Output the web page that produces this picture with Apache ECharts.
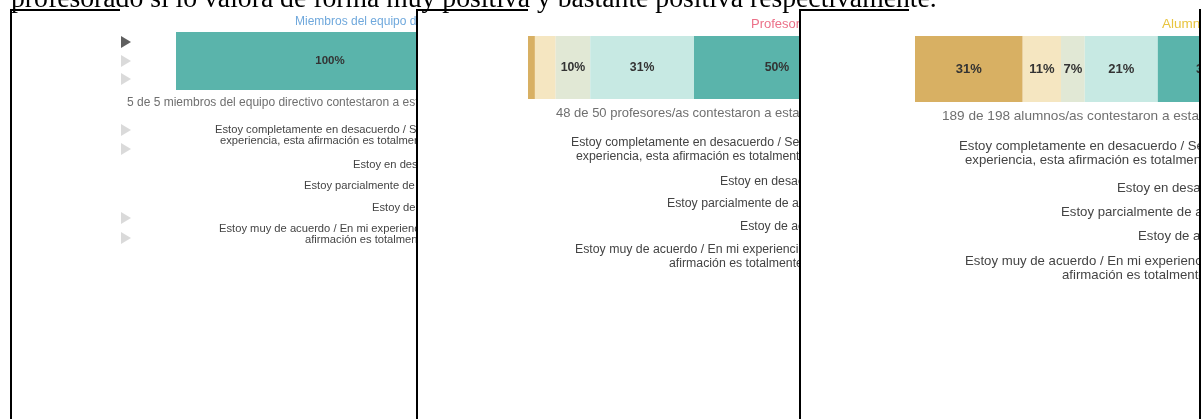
<!DOCTYPE html>
<html>
<head>
<meta charset="utf-8">
<script src="https://cdn.jsdelivr.net/npm/echarts@6/dist/echarts.min.js"></script>
<style>
    body { margin: 0; width: 1202px; height: 419px; overflow: hidden; position: relative; background: #fff; }
    .frase { position: absolute; left: 11px; top: -16px; font: 27.7px/28px "Liberation Serif", serif; color: #000; white-space: nowrap; z-index: 10; }
    .panel { position: absolute; top: 9px; height: 420px; overflow: hidden; background: #fff; border-left: 2px solid #000; }
    .panel .chart { position: absolute; left: 0; top: 0; width: 620px; height: 420px; }
    .borde { position: absolute; top: 9px; height: 2px; background: #000; z-index: 11; }
</style>
</head>
<body>
<div class="frase">profesorado sí lo valora de forma muy positiva y bastante positiva respectivamente.</div>
<div class="panel" style="left:10px;width:405px;z-index:1"><div class="chart" id="p1"></div></div>
<div class="panel" style="left:416px;width:382px;z-index:2"><div class="chart" id="p2"></div></div>
<div class="panel" style="left:799px;width:398px;z-index:3;border-right:2px solid #000"><div class="chart" id="p3"></div></div>
<div class="borde" style="left:10px;width:110px"></div>
<div class="borde" style="left:416px;width:112px"></div>
<div class="borde" style="left:799px;width:110px"></div>
<script>
    // niveles de respuesta (orden de la barra)
    var niveles = [
        'Estoy completamente en desacuerdo / Según mi experiencia, esta afirmación es totalmente falsa',
        'Estoy en desacuerdo',
        'Estoy parcialmente de acuerdo',
        'Estoy de acuerdo',
        'Estoy muy de acuerdo / En mi experiencia, esta afirmación es totalmente cierta'
    ]
    // como sale partida la leyenda
    var nivelesLineas = [
        ['Estoy completamente en desacuerdo / Según mi', 'experiencia, esta afirmación es totalmente falsa'],
        ['Estoy en desacuerdo'],
        ['Estoy parcialmente de acuerdo'],
        ['Estoy de acuerdo'],
        ['Estoy muy de acuerdo / En mi experiencia, esta', 'afirmación es totalmente cierta']
    ]
    var colores = ['#d8b063', '#f5e6c1', '#e1e8d5', '#c7e9e3', '#5ab4ab']

    var grupos = ['Miembros del equipo directivo', 'Profesorado', 'Alumnado']
    // numero de respuestas por nivel
    var equipoDirectivo = [0, 0, 0, 0, 5]
    var profesorado = [1, 3, 5, 15, 24]
    var alumnado = [59, 21, 13, 40, 56]
    var contestaron = [
        '5 de 5 miembros del equipo directivo contestaron a esta pregunta',
        '48 de 50 profesores/as contestaron a esta pregunta',
        '189 de 198 alumnos/as contestaron a esta pregunta'
    ]

    // posiciones de cada captura (cada una tiene su escala)
    var paneles = [
        {
            id: 'p1', valores: equipoDirectivo, colorTitulo: '#6fa8dc',
            grid: {left: 164, top: 23, width: 308, height: 58},
            fTitulo: 12, fResp: 12, fLey: 11.2, fBarra: 11.5,
            titulo: [283, 13], resp: [115, 94],
            leyenda: [[203, 121], [208, 132], [341, 156], [292, 177], [360, 199], [207, 220], [293, 231]],
            flechas: [[33, true], [52], [70], [121], [140], [209], [229]]
        },
        {
            id: 'p2', valores: profesorado, colorTitulo: '#ec7189',
            grid: {left: 110, top: 27, width: 332, height: 63},
            fTitulo: 13, fResp: 13, fLey: 12.3, fBarra: 12.3,
            titulo: [333, 15], resp: [138, 104],
            leyenda: [[153, 134], [158, 148], [302, 173], [249, 195], [322, 218], [157, 241], [251, 255]],
            flechas: []
        },
        {
            id: 'p3', valores: alumnado, colorTitulo: '#e8c43e',
            grid: {left: 114, top: 27, width: 345, height: 66},
            fTitulo: 13.5, fResp: 13.6, fLey: 13.2, fBarra: 13,
            titulo: [361, 15], resp: [141, 107],
            leyenda: [[158, 137], [164, 151], [316, 179], [260, 203], [337, 227], [164, 252], [261, 266]],
            flechas: []
        }
    ]

    paneles.forEach(function (p, k) {
        var myChart = echarts.init(document.getElementById(p.id))
        var total = p.valores.reduce(function (a, b) { return a + b }, 0)

        var series = niveles.map(function (nombre, i) {
            return {
                name: nombre,
                type: 'bar',
                stack: 'total',
                barWidth: '100%',
                itemStyle: {color: colores[i]},
                label: {
                    show: true,
                    position: 'inside',
                    color: '#333',
                    fontWeight: 'bold',
                    fontSize: p.fBarra,
                    fontFamily: 'Liberation Sans, Arial',
                    formatter: function (params) {
                        var pct = Math.round(params.value / total * 100)
                        return pct >= 7 ? pct + '%' : ''
                    }
                },
                data: [p.valores[i]]
            }
        })

        var graficos = []
        graficos.push({
            type: 'text', x: p.titulo[0], y: p.titulo[1],
            style: {text: grupos[k], fill: p.colorTitulo, fontSize: p.fTitulo, fontFamily: 'Liberation Sans', verticalAlign: 'middle'}
        })
        graficos.push({
            type: 'text', x: p.resp[0], y: p.resp[1],
            style: {text: contestaron[k], fill: '#6f6f6f', fontSize: p.fResp, fontFamily: 'Liberation Sans', verticalAlign: 'middle'}
        })
        var n = 0
        nivelesLineas.forEach(function (lineas) {
            lineas.forEach(function (t) {
                var pos = p.leyenda[n++]
                graficos.push({
                    type: 'text', x: pos[0], y: pos[1],
                    style: {text: t, fill: '#444', fontSize: p.fLey, fontFamily: 'Liberation Sans', verticalAlign: 'middle'}
                })
            })
        })
        // flechitas grises de la izquierda
        p.flechas.forEach(function (f) {
            graficos.push({
                type: 'polygon',
                shape: {points: [[109, f[0] - 6], [119, f[0]], [109, f[0] + 6]]},
                style: {fill: f[1] ? '#5f5f5f' : '#dadada'}
            })
        })

        var option = {
            animation: false,
            grid: p.grid,
            xAxis: {type: 'value', min: 0, max: total, show: false},
            yAxis: {type: 'category', data: [grupos[k]], show: false},
            graphic: graficos,
            series: series
        }
        myChart.setOption(option)
    })
</script>
</body>
</html>
